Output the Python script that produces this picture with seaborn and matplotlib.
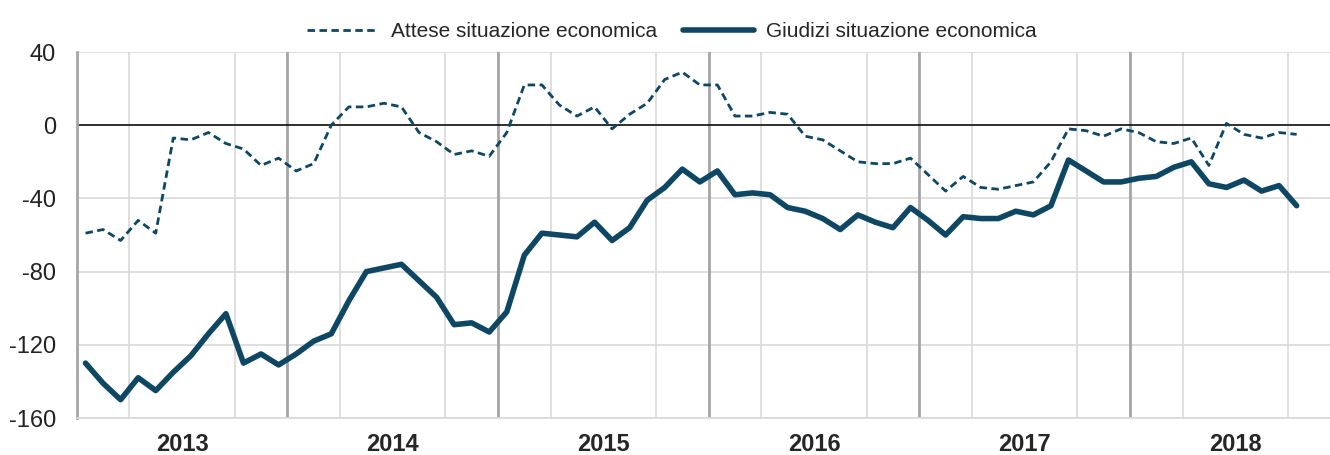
import matplotlib
matplotlib.use("Agg")
import matplotlib.pyplot as plt
from matplotlib.ticker import FixedLocator, MultipleLocator, NullFormatter
import seaborn as sns
import pandas as pd
import numpy as np

# monthly series, Jan 2013 - Oct 2018
anni = ["2013", "2014", "2015", "2016", "2017", "2018"]

attese = [
    -59, -57, -63, -52, -59, -7, -8, -4, -10, -13, -22, -18,          # 2013
    -25, -21, 0, 10, 10, 12, 10, -4, -9, -16, -14, -17,              # 2014
    -4, 22, 22, 11, 5, 10, -2, 6, 12, 25, 29, 22,                    # 2015
    22, 5, 5, 7, 6, -6, -8, -14, -20, -21, -21, -18,                 # 2016
    -27, -36, -28, -34, -35, -33, -31, -20, -2, -3, -6, -2,          # 2017
    -4, -9, -10, -7, -22, 1, -5, -7, -4, -5,                         # 2018
]

giudizi = [
    -130, -141, -150, -138, -145, -135, -126, -114, -103, -130, -125, -131,
    -125, -118, -114, -96, -80, -78, -76, -85, -94, -109, -108, -113,
    -102, -71, -59, -60, -61, -53, -63, -56, -41, -34, -24, -31,
    -25, -38, -37, -38, -45, -47, -51, -57, -49, -53, -56, -45,
    -52, -60, -50, -51, -51, -47, -49, -44, -19, -25, -31, -31,
    -29, -28, -23, -20, -32, -34, -30, -36, -33, -44,
]

df = pd.DataFrame({
    "mese": np.arange(len(giudizi)) + 0.5,
    "attese": attese,
    "giudizi": giudizi,
})

sns.set_style("white")
plt.rcParams["font.family"] = ["Liberation Sans", "DejaVu Sans"]
plt.rcParams["axes.unicode_minus"] = False

blu = "#0d4764"

fig = plt.figure(figsize=(13.3, 4.55), dpi=100)
ax = fig.add_axes([0.0577, 0.0813, 1 - 0.0577, 0.8044])

sns.lineplot(data=df, x="mese", y="attese", ax=ax, color=blu, lw=2.0,
             linestyle=(0, (2.7, 1.6)), label="Attese situazione economica")
sns.lineplot(data=df, x="mese", y="giudizi", ax=ax, color=blu, lw=4.0,
             label="Giudizi situazione economica", solid_capstyle="round")

ax.set_xlim(0, 71.4)
ax.set_ylim(-160, 40)

# y axis
ax.yaxis.set_major_locator(MultipleLocator(40))
ax.tick_params(axis="y", length=0, pad=15, labelsize=17, labelcolor="#222222")
ax.grid(axis="y", color="#d9d9d9", lw=1.2)
ax.axhline(0, color="black", lw=1.1, zorder=1.5)

# x axis: year labels in the middle, quarters as grid
ax.xaxis.set_major_locator(FixedLocator(np.arange(6, 72, 12)))
ax.set_xticklabels(anni, fontweight="bold", fontsize=17)
ax.xaxis.set_minor_locator(MultipleLocator(3))
ax.xaxis.set_minor_formatter(NullFormatter())
ax.tick_params(axis="x", which="both", length=0, pad=11)
ax.grid(axis="x", which="minor", color="#d9d9d9", lw=1.2)
for x in range(12, 72, 12):
    ax.axvline(x, color="#a6a6a6", lw=2, zorder=1)

ax.set_xlabel("")
ax.set_ylabel("")
ax.set_axisbelow(True)

for s in ["top", "right"]:
    ax.spines[s].set_visible(False)
ax.spines["left"].set_color("#a6a6a6")
ax.spines["left"].set_linewidth(2)
ax.spines["bottom"].set_color("#d9d9d9")
ax.spines["bottom"].set_linewidth(1.2)

ax.legend(loc="lower center", bbox_to_anchor=(0.475, 0.995), ncol=2, frameon=False,
          fontsize=15, handlelength=3.4, columnspacing=1.25, handletextpad=0.6,
          borderaxespad=0.2)

fig.savefig("out.png", dpi=100)
